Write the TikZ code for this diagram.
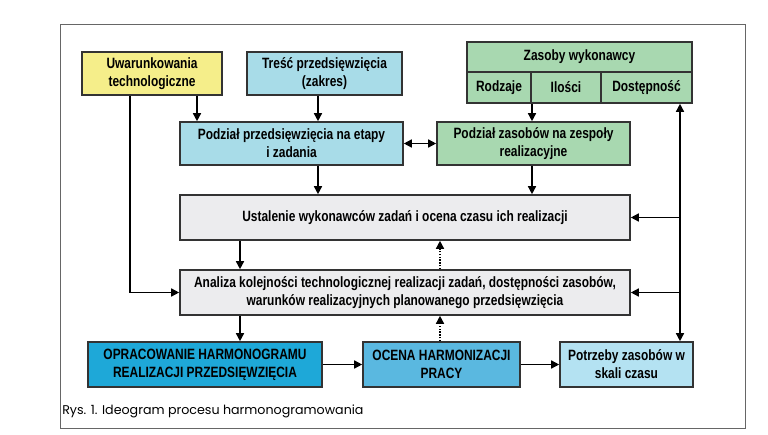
\documentclass[tikz,border=0pt]{standalone}
\usepackage{fontspec}
\setmainfont{Liberation Sans}[FakeStretch=0.8]
\newfontfamily\capfont{Poppins}
\usetikzlibrary{arrows.meta}
\definecolor{cyel}{HTML}{F5EE8A}
\definecolor{cblu}{HTML}{A8DCE8}
\definecolor{cgrn}{HTML}{A8D8B0}
\definecolor{cgry}{HTML}{ECECEE}
\definecolor{cdb}{HTML}{1EA8D8}
\definecolor{cmb}{HTML}{5AB8E0}
\definecolor{clb}{HTML}{B4E2F2}
\begin{document}
\begin{tikzpicture}[x=0.75pt,y=-0.75pt,
  bx/.style={draw=black!80,line width=1.2pt,inner sep=0pt,align=center,font=\bfseries\fontsize{11.2}{13.5}\selectfont},
  ar/.style={-{Triangle[length=6pt,width=6pt]},line width=1.1pt},
  da/.style={ar,densely dotted}]
\useasboundingbox (0,0) rectangle (768,435);
\draw[black!60,line width=0.6pt] (60,24) rectangle (745,428);
\node[bx,fill=cyel,minimum width=140*0.75pt,minimum height=43*0.75pt] (uw) at (152,73.5) {Uwarunkowania\\technologiczne};
\node[bx,fill=cblu,minimum width=155*0.75pt,minimum height=43*0.75pt] (tr) at (324.5,73.5) {Treść przedsięwzięcia\\(zakres)};
\node[bx,fill=cgrn,minimum width=225*0.75pt,minimum height=30*0.75pt] (zh) at (579.5,57) {Zasoby wykonawcy};
\node[bx,fill=cgrn,minimum width=64*0.75pt,minimum height=31*0.75pt] (z1) at (499,87.5) {Rodzaje};
\node[bx,fill=cgrn,minimum width=70*0.75pt,minimum height=31*0.75pt] (z2) at (566,87.5) {Ilości};
\node[bx,fill=cgrn,minimum width=91*0.75pt,minimum height=31*0.75pt] (z3) at (646.5,87.5) {Dostępność};
\node[bx,fill=cblu,minimum width=223*0.75pt,minimum height=43*0.75pt] (pp) at (291.5,143.5) {Podział przedsięwzięcia na etapy\\i zadania};
\node[bx,fill=cgrn,minimum width=193*0.75pt,minimum height=43*0.75pt] (pz) at (533.5,143.5) {Podział zasobów na zespoły\\realizacyjne};
\node[bx,fill=cgry,minimum width=450*0.75pt,minimum height=45*0.75pt] (us) at (405,217.5) {Ustalenie wykonawców zadań i ocena czasu ich realizacji};
\node[bx,fill=cgry,minimum width=450*0.75pt,minimum height=45*0.75pt] (an) at (405,292.5) {Analiza kolejności technologicznej realizacji zadań, dostępności zasobów,\\warunków realizacyjnych planowanego przedsięwzięcia};
\node[bx,fill=cdb,minimum width=234*0.75pt,minimum height=45*0.75pt] (op) at (205,364.5) {OPRACOWANIE HARMONOGRAMU\\REALIZACJI PRZEDSIĘWZIĘCIA};
\node[bx,fill=cmb,minimum width=157*0.75pt,minimum height=45*0.75pt] (oc) at (441.5,364.5) {OCENA HARMONIZACJI\\PRACY};
\node[bx,fill=clb,minimum width=133*0.75pt,minimum height=45*0.75pt] (po) at (626.5,364.5) {Potrzeby zasobów w\\skali czasu};
\node[anchor=west,font=\capfont\fontsize{9.5}{11}\selectfont,inner sep=0pt] (cap) at (62,411) {Rys. 1. Ideogram procesu harmonogramowania};
% connectors
\draw[ar] (uw.south -| 197,0) -- (pp.north -| 197,0);
\draw[ar] (uw.south -| 130,0) |- (an.west);
\draw[ar] (tr.south -| 318,0) -- (pp.north -| 318,0);
\draw[{Triangle[length=6pt,width=6pt]}-{Triangle[length=6pt,width=6pt]},line width=1.1pt] (pp.east) -- (pz.west);
\draw[ar] (z1.south -| 532,0) -- (pz.north -| 532,0);
\draw[ar] (pp.south -| 318,0) -- (us.north -| 318,0);
\draw[ar] (pz.south -| 532,0) -- (us.north -| 532,0);
\coordinate (rt) at (680,103);
\draw[{Triangle[length=6pt,width=6pt]}-{Triangle[length=6pt,width=6pt]},line width=1.1pt] (z3.south -| rt) -- (po.north -| rt);
\draw[ar] (rt |- us.east) -- (us.east);
\draw[ar] (rt |- an.east) -- (an.east);
\draw[ar] (us.south -| 240,0) -- (an.north -| 240,0);
\draw[ar] (an.south -| 240,0) -- (op.north -| 240,0);
\draw[da] (an.north -| 440,0) -- (us.south -| 440,0);
\draw[da] (oc.north -| 440,0) -- (an.south -| 440,0);
\draw[ar] (op.east) -- (oc.west);
\draw[ar] (oc.east) -- (po.west);
\end{tikzpicture}
\end{document}
